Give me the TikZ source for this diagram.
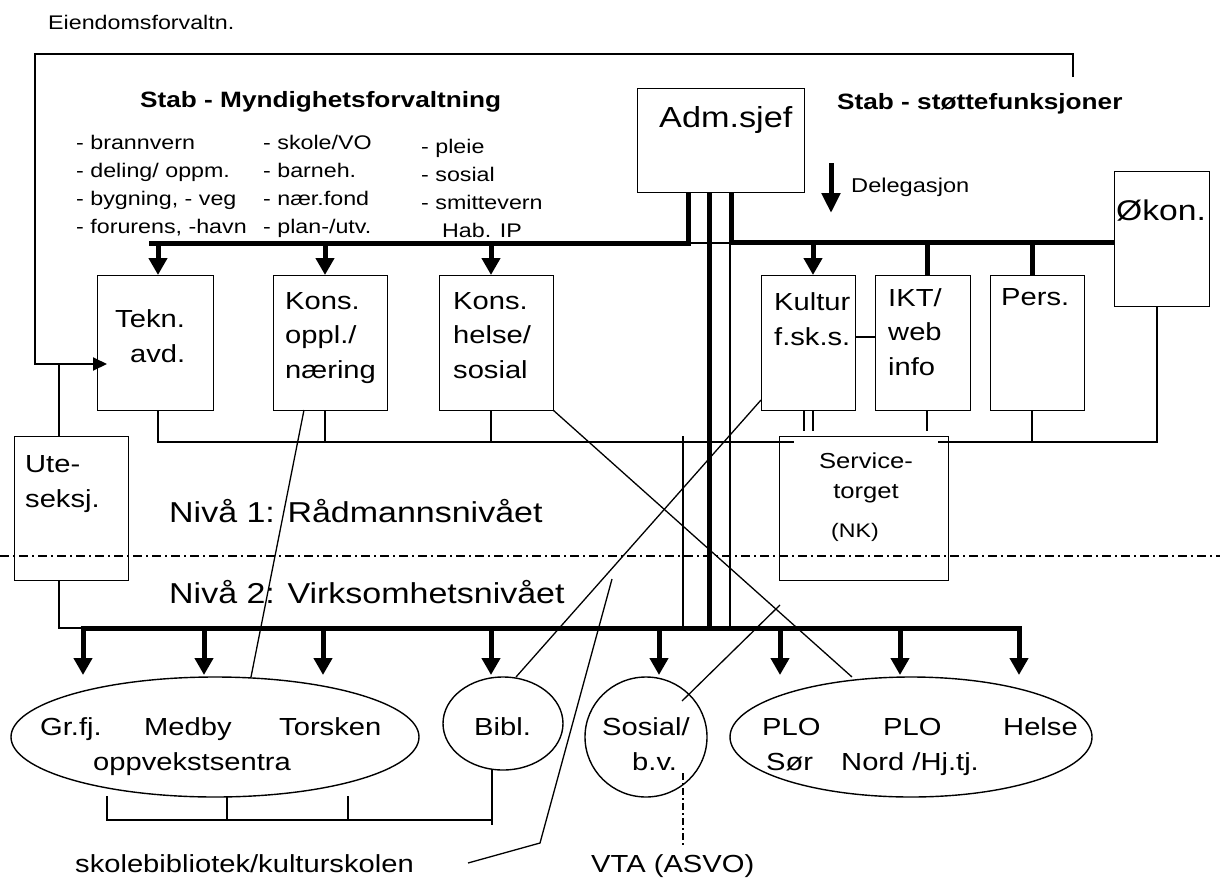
\documentclass[tikz,border=0pt]{standalone}
\usepackage{fontspec}
\setmainfont{Liberation Sans}[FakeStretch=1.18]
\usetikzlibrary{arrows.meta,shapes.geometric,calc}
\newcommand{\fsz}[2]{\fontsize{#1}{#2}\selectfont}
\begin{document}
\begin{tikzpicture}[x=1pt,y=-1pt,
  fine/.style={line width=1.3pt},
  heavy/.style={line width=5pt},
  box/.style={draw,line width=1.4pt,rectangle,inner sep=0pt,anchor=north west},
  oval/.style={draw,line width=1.4pt,ellipse,inner sep=0pt},
  txt/.style={inner sep=0pt,anchor=base west},
  ctxt/.style={inner sep=0pt,anchor=base},
  arr/.style={line width=5pt,-{Triangle[width=18pt,length=17pt]}},
  smallarr/.style={line width=2pt,-{Triangle[width=13pt,length=14pt]}},
  dashdot/.style={line width=1.2pt,dash pattern=on 9pt off 4pt on 2pt off 4pt},
  lbl/.style={font=\fsz{19.7}{28}},
  boxtxt/.style={font=\fsz{24.7}{34.5}},
  big/.style={font=\fsz{28.8}{34}},
  stab/.style={font=\bfseries\fsz{22.2}{26}}
]
\useasboundingbox (0,0) rectangle (1220,883);

% ---------- boxes ----------
\node[box,minimum width=167pt,minimum height=104pt] (adm) at (637,88) {};
\node[box,minimum width=95pt,minimum height=135pt] (okon) at (1114,171) {};
\node[box,minimum width=116pt,minimum height=135pt] (tekn) at (97,275) {};
\node[box,minimum width=114pt,minimum height=135pt] (konsopp) at (273,275) {};
\node[box,minimum width=114pt,minimum height=135pt] (konshel) at (439,275) {};
\node[box,minimum width=94pt,minimum height=135pt] (kultur) at (761,275) {};
\node[box,minimum width=95pt,minimum height=135pt] (ikt) at (875,275) {};
\node[box,minimum width=94pt,minimum height=135pt] (pers) at (990,275) {};
\node[box,minimum width=114pt,minimum height=144pt] (ute) at (14,436) {};
\node[box,minimum width=169pt,minimum height=144pt] (service) at (779,436) {};

% ---------- ovals ----------
\node[oval,minimum width=408pt,minimum height=120pt] (oppv) at (215,737) {};
\node[oval,minimum width=120pt,minimum height=93pt] (bibl) at (503,723.5) {};
\node[oval,minimum width=122pt,minimum height=120pt] (sosial) at (646,737) {};
\node[oval,minimum width=362pt,minimum height=120pt] (plo) at (911,737) {};

% ---------- texts (multi-line nodes anchored at the last baseline) ----------
\node[txt,lbl] (eiend) at (48,30) {Eiendomsforvaltn.};
\node[txt,stab] (stabm) at (140,107) {Stab - Myndighetsforvaltning};
\node[txt,stab] (stabs) at (837,109) {Stab - støttefunksjoner};
\node[txt,lbl,align=left] (col1) at (76,233) {- brannvern\\- deling/ oppm.\\- bygning, - veg\\- forurens, -havn};
\node[txt,lbl,align=left] (col2) at (263,233) {- skole/VO\\- barneh.\\- nær.fond\\- plan-/utv.};
\node[txt,lbl,align=left] (col3) at (421,209) {- pleie\\- sosial\\- smittevern};
\node[txt,lbl] (habip) at (442,237) {Hab. IP};
\node[txt,font=\fsz{29}{34}] (admtxt) at (659,127) {Adm.sjef};
\node[txt,font=\fsz{20}{24}] (deleg) at (851,192) {Delegasjon};
\node[txt,font=\fsz{28.5}{34}] (okontxt) at (1116,220) {Økon.};
\node[txt,boxtxt] (tekn1) at (115,327) {Tekn.};
\node[txt,boxtxt] (tekn2) at (130,362) {avd.};
\node[txt,boxtxt,align=left] (konsopptxt) at (285,378) {Kons.\\oppl./\\næring};
\node[txt,boxtxt,align=left] (konsheltxt) at (453,378) {Kons.\\helse/\\sosial};
\node[txt,boxtxt,align=left] (kulturtxt) at (774,345) {Kultur\\f.sk.s.};
\node[txt,boxtxt,align=left] (ikttxt) at (888,375) {IKT/\\web\\info};
\node[txt,boxtxt] (perstxt) at (1001,305) {Pers.};
\node[ctxt,font=\fsz{21.7}{30}] (serv1) at (866,468) {Service-};
\node[ctxt,font=\fsz{21.7}{30}] (serv2) at (866,498) {torget};
\node[ctxt,font=\fsz{19.6}{24}] (serv3) at (855,537) {(NK)};
\node[txt,boxtxt] (ute1) at (25,472) {Ute-};
\node[txt,boxtxt] (ute2) at (25,507) {seksj.};
\node[txt,big] (niva1) at (169,522) {Nivå 1: Rådmannsnivået};
\node[txt,big] (niva2) at (169,603) {Nivå 2: Virksomhetsnivået};
\node[txt,boxtxt] (grfj) at (40,735) {Gr.fj.};
\node[txt,boxtxt] (medby) at (144,735) {Medby};
\node[txt,boxtxt] (torsken) at (279,735) {Torsken};
\node[txt,boxtxt] (oppvtxt) at (93,770) {oppvekstsentra};
\node[txt,boxtxt] (bibltxt) at (474,735) {Bibl.};
\node[txt,boxtxt] (sos1) at (602,735) {Sosial/};
\node[txt,boxtxt] (sos2) at (632,770) {b.v.};
\node[txt,boxtxt] (plo1) at (762,735) {PLO};
\node[txt,boxtxt] (plo2) at (883,735) {PLO};
\node[txt,boxtxt] (helse) at (1003,735) {Helse};
\node[txt,boxtxt] (sor) at (766,770) {Sør};
\node[txt,boxtxt] (nord) at (841,770) {Nord /Hj.tj.};
\node[txt,boxtxt] (skolebib) at (75,872) {skolebibliotek/kulturskolen};
\node[txt,boxtxt] (vta) at (591,872) {VTA (ASVO)};

% ---------- Eiendomsforvaltning frame ----------
\coordinate (eiendend) at (1073,77);
\coordinate (teknin) at (107,364);
\draw[smallarr] (eiendend) -- (1073,54) -- (35,54) -- (35,364) -- (teknin);
\draw[fine] (59,364) -- (59,436);
\draw[fine] (59,580) -- (59,628) -- (83,628);

% ---------- Adm.sjef connections ----------
\draw[heavy] (149,243) -- (688,243) -- (688,192);
\draw[heavy] (731,192) -- (731,242) -- (1114,242);
\draw[heavy] (709,192) -- (709,628);
\draw[fine] (688,243) -- (731,243);
\draw[fine] (730,243) -- (730,628);
\draw[fine] (683,436) -- (683,628);

\draw[arr] (158,243) -- (158,275);
\draw[arr] (325,243) -- (325,275);
\draw[arr] (491,243) -- (491,275);
\draw[arr] (813,242) -- (813,275);
\draw[heavy] (927,242) -- (927,275);
\draw[heavy] (1032,242) -- (1032,275);

% Delegasjon
\draw[line width=5pt,-{Triangle[width=18pt,length=20pt]}] (831,163) -- (831,213);

% ---------- level-1 thin links ----------
\draw[fine] (158,410) -- (158,442) -- (794,442);
\draw[fine] (325,410) -- (325,442);
\draw[fine] (491,410) -- (491,442);
\draw[fine] (938,442) -- (1157,442) -- (1157,306);
\draw[fine] (1032,410) -- (1032,442);
\draw[fine] (804,410) -- (804,431);
\draw[fine] (813,410) -- (813,431);
\draw[fine] (927,410) -- (927,431);
\draw[fine] (855,337) -- (875,337);

% level divider
\draw[dashdot] (0,556) -- (1220,556);

% ---------- bottom bus ----------
\draw[heavy] (80.5,628) -- (1021.5,628);
\foreach \x in {83,204,323,491,659,780,900,1019}
  \draw[arr] (\x,628) -- (\x,675);

% ---------- diagonals ----------
\draw[fine] (304,410) -- (251,677);
\draw[fine] (553,410) -- (852,677);
\draw[fine] (761,400) -- (516,677);
\draw[fine] (468,863) -- (540,843) -- (612,579);
\draw[fine] (780,605) -- (682,701);
\draw[line width=1.2pt,dash pattern=on 7pt off 3pt on 2pt off 3pt] (683,773) -- (683,845);

% ---------- bracket ----------
\coordinate (biblfoot) at (492,770);
\draw[fine] (biblfoot) -- (492,825);
\draw[fine] (107,796) -- (107,820) -- (492,820);
\draw[fine] (227,796) -- (227,820);
\draw[fine] (348,796) -- (348,820);
\end{tikzpicture}
\end{document}
